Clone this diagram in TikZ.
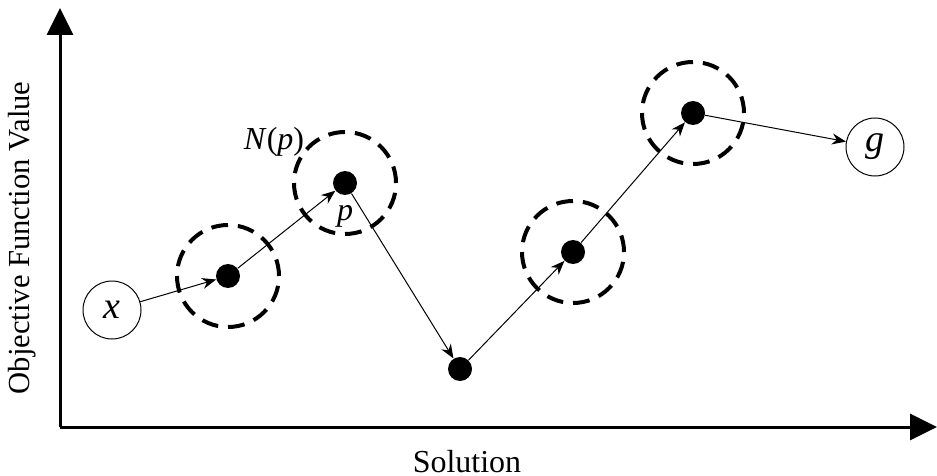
\documentclass[tikz,border=0pt]{standalone}
\usepackage{fontspec}
\setmainfont{Liberation Serif}
\usepackage{tikz}
\usetikzlibrary{positioning,calc}
\usetikzlibrary{arrows.meta}
\tikzset{
  dot/.style={circle,fill=black,inner sep=0pt,minimum size=12pt},
  endpt/.style={circle,draw=black,fill=white,line width=0.5pt,inner sep=0pt,minimum size=29pt,font=\fontsize{19}{22}\selectfont\itshape},
  hood/.style={circle,draw=black,line width=2pt,inner sep=0pt,minimum size=51pt,dash pattern=on 8.4pt off 4.95pt},
  move/.style={draw=black,line width=0.5pt,-{Stealth[length=7pt,width=5.5pt]}},
  axis/.style={draw=black,line width=1.5pt,-{Triangle[length=13.5pt,width=13pt]}},
}
\tikzset{lab/.style={inner sep=0pt,font=\fontsize{16}{19}\selectfont}}

\begin{document}
\begin{tikzpicture}[x=0.5pt,y=-0.5pt]
\useasboundingbox (0,0) rectangle (937,476);
\coordinate (o) at (60,427);
\coordinate (ytip) at (60,8);
\coordinate (xtip) at (937,427);
\draw[axis] (o)--(ytip);
\draw[axis] (o)--(xtip);
\node[lab,font=\fontsize{15.3}{18}\selectfont] (ylab) at (22,238) [rotate=90] {Objective Function Value};
\node[lab,anchor=base] (xlab) at (467,472) {Solution};
\node[endpt] (x) at (112,310) {x};
\node[dot] (d1) at (228,276) {};
\node[dot] (p) at (345,183) {};
\node[dot] (d3) at (460,369) {};
\node[dot] (d4) at (573,252) {};
\node[dot] (d5) at (693,113) {};
\node[endpt] (g) at (875,147) {g};
\node[hood] at (d1) {};
\node[hood] (np) at (p) {};
\node[hood] at (d4) {};
\node[hood] at (d5) {};
\node[lab,font=\fontsize{16}{19}\selectfont\itshape] (plab) [below=5pt of p] {p};
\node[lab] (nlab) at (274,142) {\textit{N}(\textit{p})};
\draw[move] (x)--(d1);
\draw[move] (d1)--(p);
\draw[move] (p)--(d3);
\draw[move] (d3)--(d4);
\draw[move] (d4)--(d5);
\draw[move] (d5)--(g);
\end{tikzpicture}
\end{document}
